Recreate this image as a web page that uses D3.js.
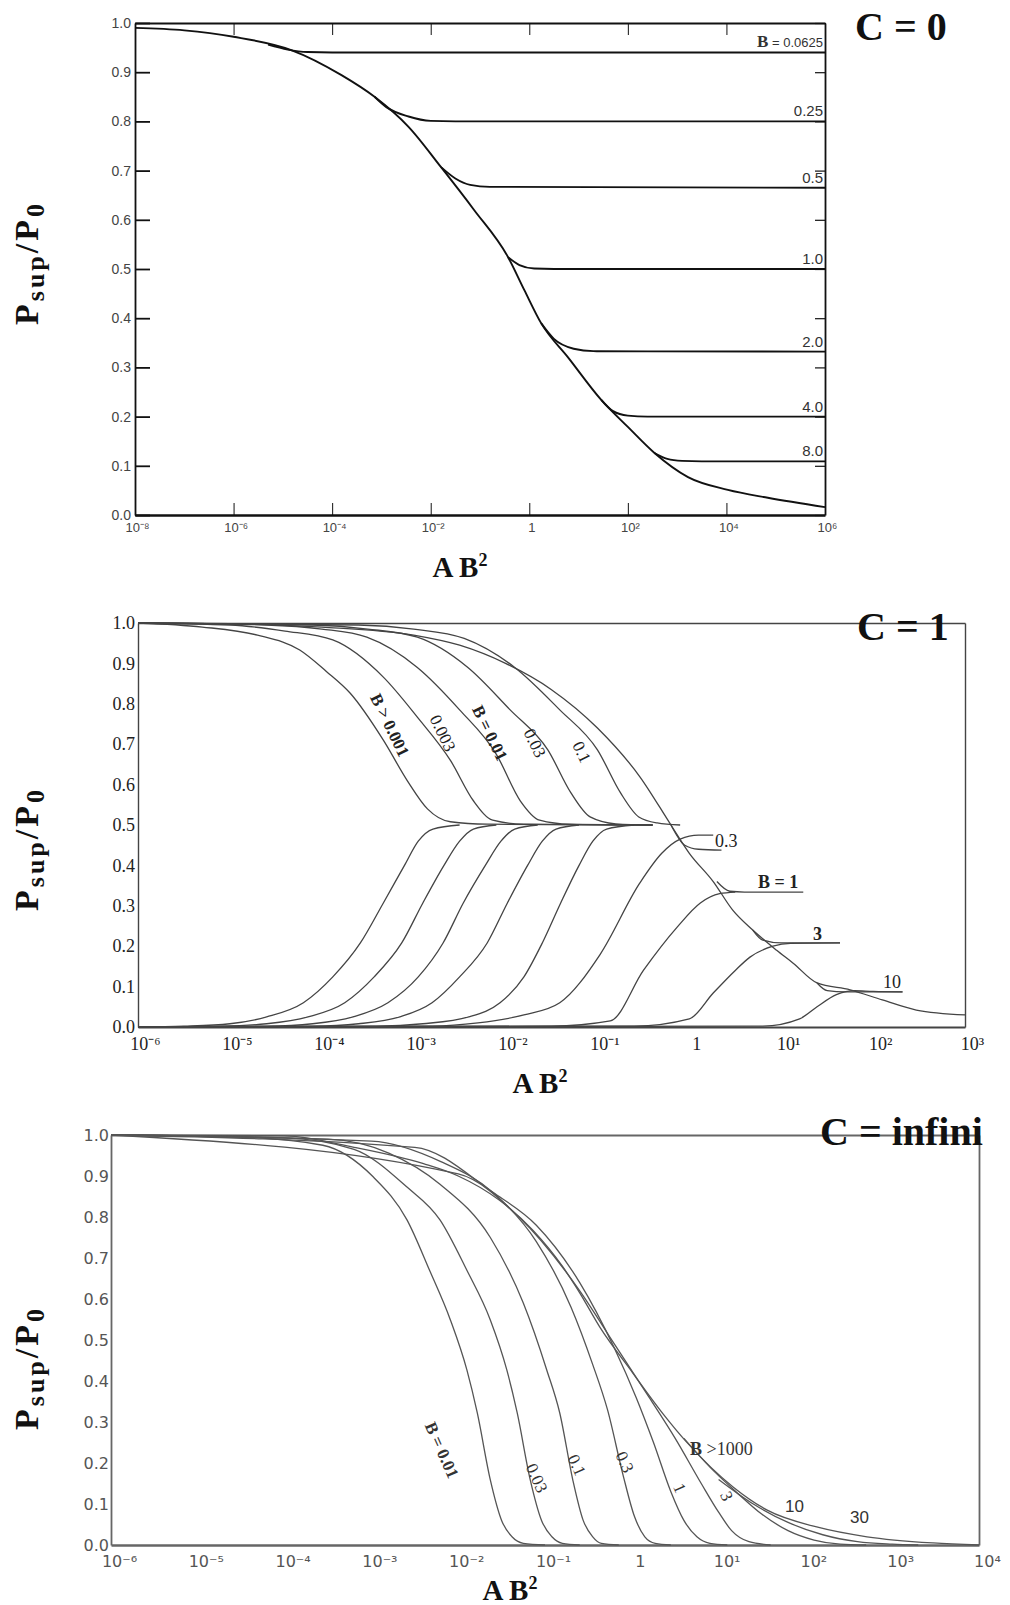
<!DOCTYPE html>
<html>
<head>
<meta charset="utf-8">
<script src="https://cdn.jsdelivr.net/npm/d3@7"></script>
<style>
  body { margin: 0; background: #fff; }
</style>
</head>
<body>
<svg id="fig" width="1010" height="1605"></svg>
<script>
// every point is [log10(A B²), Psup/P0]

// ---------- C = 0 ----------
const c0XTicks = [-8, -6, -4, -2, 0, 2, 4, 6];
const c0Env = [[-8, 0.99], [-7, 0.985], [-6, 0.972], [-4.83, 0.945], [-3.81, 0.894], [-3.14, 0.85], [-2.45, 0.789],
  [-1.79, 0.707], [-1.12, 0.62], [-0.43, 0.524], [-0.1, 0.457], [0.24, 0.39], [0.79, 0.32], [1.46, 0.234],
  [2.0, 0.179], [2.54, 0.126], [3.22, 0.077], [4.03, 0.051], [4.84, 0.035], [6, 0.016]];
const c0B00625 = [[-5.3, 0.956], [-4.9, 0.946], [-4.5, 0.941], [-4, 0.94], [6, 0.94]];
const c0B025 = [[-3.14, 0.85], [-2.9, 0.829], [-2.45, 0.81], [-2, 0.801], [-1.5, 0.8], [6, 0.8]];
const c0B05 = [[-1.79, 0.707], [-1.5, 0.684], [-1.2, 0.671], [-0.8, 0.667], [6, 0.665]];
const c0B1 = [[-0.43, 0.524], [-0.2, 0.508], [0.1, 0.501], [0.5, 0.5], [6, 0.5]];
const c0B2 = [[0.24, 0.39], [0.5, 0.358], [0.9, 0.338], [1.3, 0.333], [6, 0.332]];
const c0B4 = [[1.46, 0.234], [1.7, 0.211], [2.0, 0.202], [2.4, 0.2], [6, 0.2]];
const c0B8 = [[2.54, 0.126], [2.8, 0.114], [3.1, 0.11], [3.5, 0.109], [6, 0.109]];
const c0Labels = ["0.25", "0.5", "1.0", "2.0", "4.0", "8.0"];

// ---------- C = 1 ----------
const c1XTicks = [-6, -5, -4, -3, -2, -1, 0, 1, 2, 3];
const c1Env = [[-6, 1], [-5, 0.998], [-4, 0.99], [-3, 0.97], [-2.5, 0.945], [-2, 0.9], [-1.5, 0.835], [-1.0, 0.74],
  [-0.54, 0.62], [-0.2, 0.5], [0, 0.43], [0.26, 0.36], [0.47, 0.29], [0.69, 0.24], [0.95, 0.19], [1.13, 0.158],
  [1.39, 0.109], [1.75, 0.092], [2.1, 0.067], [2.47, 0.042], [3, 0.03]];
const c1DescB0001 = [[-6, 1], [-5.3, 0.99], [-4.7, 0.97], [-4.24, 0.933], [-3.95, 0.88], [-3.69, 0.826], [-3.33, 0.71],
  [-3.07, 0.61], [-2.85, 0.54], [-2.6, 0.508], [-2.2, 0.502], [-0.4, 0.5]];
const c1DescB0003 = [[-6, 1], [-5, 0.995], [-4.4, 0.98], [-3.88, 0.958], [-3.33, 0.866], [-2.96, 0.767], [-2.6, 0.66],
  [-2.35, 0.56], [-2.14, 0.512], [-1.8, 0.502], [-0.4, 0.5]];
const c1DescB001 = [[-6, 1], [-4.6, 0.995], [-4, 0.985], [-3.51, 0.965], [-2.96, 0.89], [-2.5, 0.785], [-2.1, 0.675],
  [-1.84, 0.56], [-1.63, 0.512], [-1.3, 0.502], [-0.4, 0.5]];
const c1DescB003 = [[-6, 1], [-4.1, 0.995], [-3.5, 0.985], [-2.96, 0.965], [-2.41, 0.89], [-1.95, 0.785], [-1.54, 0.686],
  [-1.29, 0.58], [-1.08, 0.52], [-0.8, 0.503], [-0.4, 0.5]];
const c1DescB01 = [[-6, 1], [-3.6, 0.995], [-3, 0.985], [-2.45, 0.962], [-1.9, 0.89], [-1.41, 0.785], [-1.0, 0.686],
  [-0.75, 0.58], [-0.55, 0.52], [-0.35, 0.505], [-0.1, 0.5]];
const c1DescB03 = [[-0.2, 0.5], [-0.05, 0.45], [0.1, 0.44], [0.35, 0.438]];
const c1DescB1 = [[0.3, 0.36], [0.44, 0.336], [0.6, 0.334], [1.24, 0.334]];
const c1DescB3 = [[0.69, 0.24], [0.8, 0.215], [1.0, 0.208], [1.64, 0.208]];
const c1DescB10 = [[1.39, 0.109], [1.5, 0.09], [1.7, 0.087], [2.32, 0.087]];
const c1AscB0001 = [[-6, 0], [-5.5, 0.002], [-5, 0.008], [-4.6, 0.025], [-4.2, 0.06], [-3.88, 0.124], [-3.58, 0.208],
  [-3.33, 0.307], [-3.1, 0.4], [-2.95, 0.46], [-2.79, 0.49], [-2.5, 0.5]];
const c1AscB0003 = [[-6, 0], [-5.1, 0.002], [-4.6, 0.008], [-4.15, 0.025], [-3.75, 0.06], [-3.43, 0.124], [-3.13, 0.208],
  [-2.9, 0.307], [-2.67, 0.4], [-2.5, 0.46], [-2.35, 0.49], [-2.1, 0.5]];
const c1AscB001 = [[-6, 0], [-4.6, 0.002], [-4.1, 0.008], [-3.66, 0.025], [-3.28, 0.06], [-2.95, 0.124], [-2.68, 0.208],
  [-2.46, 0.307], [-2.22, 0.4], [-2.05, 0.46], [-1.9, 0.49], [-1.65, 0.5]];
const c1AscB003 = [[-6, 0], [-4.1, 0.002], [-3.6, 0.008], [-3.15, 0.025], [-2.8, 0.06], [-2.5, 0.124], [-2.2, 0.208],
  [-1.98, 0.307], [-1.76, 0.4], [-1.6, 0.46], [-1.45, 0.49], [-1.2, 0.5]];
const c1AscB01 = [[-6, 0], [-3.4, 0.002], [-2.9, 0.008], [-2.4, 0.025], [-2.06, 0.06], [-1.8, 0.124], [-1.6, 0.208],
  [-1.4, 0.307], [-1.2, 0.4], [-1.05, 0.46], [-0.9, 0.49], [-0.6, 0.5]];
const c1AscB03 = [[-6, 0], [-2.8, 0.002], [-2.3, 0.01], [-1.8, 0.03], [-1.41, 0.06], [-0.97, 0.18], [-0.54, 0.356],
  [-0.3, 0.43], [-0.1, 0.465], [0.1, 0.475], [0.26, 0.475]];
const c1AscB1 = [[-6, 0], [-1.5, 0.002], [-0.86, 0.015], [-0.5, 0.14], [-0.13, 0.248], [0.12, 0.307], [0.33, 0.33], [0.5, 0.334]];
const c1AscB3 = [[-6, 0], [-0.6, 0.002], [0, 0.02], [0.26, 0.084], [0.5, 0.14], [0.66, 0.173], [0.91, 0.2], [1.1, 0.207], [1.64, 0.208]];
const c1AscB10 = [[-6, 0], [0.8, 0.002], [1.2, 0.02], [1.39, 0.05], [1.6, 0.08], [1.8, 0.09], [2.0, 0.088], [2.32, 0.087]];

// ---------- C = infini ----------
const ciXTicks = [-6, -5, -4, -3, -2, -1, 0, 1, 2, 3, 4];
const ciEnv = [[-6, 1], [-4, 0.998], [-3.2, 0.97], [-2.4, 0.93], [-2, 0.9], [-1.52, 0.84], [-1.14, 0.768], [-0.8, 0.68],
  [-0.6, 0.615], [-0.37, 0.532], [0.01, 0.42], [0.36, 0.32], [0.64, 0.249], [1.17, 0.141], [1.56, 0.085],
  [2.13, 0.044], [2.71, 0.02], [3.47, 0.005], [4, 0]];
const ciB001 = [[-6, 1], [-4.5, 0.995], [-3.56, 0.975], [-2.98, 0.898], [-2.59, 0.793], [-2.33, 0.67], [-2.09, 0.549],
  [-1.9, 0.427], [-1.78, 0.322], [-1.63, 0.159], [-1.5, 0.06], [-1.38, 0.02], [-1.25, 0.004], [-1.0, 0]];
const ciB003 = [[-6, 1], [-4, 0.993], [-3.2, 0.965], [-2.59, 0.873], [-2.21, 0.793], [-1.9, 0.67], [-1.63, 0.549],
  [-1.44, 0.427], [-1.32, 0.322], [-1.17, 0.159], [-1.04, 0.06], [-0.92, 0.02], [-0.8, 0.004], [-0.6, 0]];
const ciB01 = [[-6, 1], [-3.5, 0.99], [-2.8, 0.956], [-2.21, 0.88], [-1.63, 0.75], [-1.25, 0.59], [-0.98, 0.427],
  [-0.83, 0.322], [-0.68, 0.159], [-0.56, 0.06], [-0.45, 0.02], [-0.35, 0.004], [-0.15, 0]];
const ciB03 = [[-6, 1], [-3, 0.985], [-2.2, 0.935], [-1.6, 0.86], [-1.1, 0.74], [-0.7, 0.58], [-0.45, 0.44],
  [-0.28, 0.33], [-0.1, 0.17], [0.03, 0.07], [0.15, 0.02], [0.27, 0.004], [0.45, 0]];
const ciB1 = [[-6, 1], [-2.5, 0.97], [-1.6, 0.86], [-1.1, 0.78], [-0.6, 0.64], [-0.2, 0.48], [0.05, 0.36], [0.25, 0.25],
  [0.45, 0.13], [0.6, 0.06], [0.75, 0.02], [0.9, 0.004], [1.1, 0]];
const ciB3 = [[-6, 1], [-2, 0.905], [-1.3, 0.8], [-0.6, 0.62], [-0.2, 0.49], [0.2, 0.36], [0.5, 0.26], [0.8, 0.15],
  [1.0, 0.08], [1.15, 0.035], [1.35, 0.008], [1.6, 0]];
const ciB10 = [[0.6, 0.26], [0.9, 0.19], [1.2, 0.13], [1.5, 0.075], [1.8, 0.035], [2.1, 0.012], [2.4, 0.002], [2.7, 0]];
const ciB30 = [[1.0, 0.16], [1.4, 0.1], [1.8, 0.055], [2.2, 0.025], [2.6, 0.008], [3.0, 0.002], [3.3, 0]];

const yTicks = d3.range(0, 11).map(i => i / 10);

const serif = "'Liberation Serif', 'Times New Roman', serif";
const sans = "'Liberation Sans', Arial, sans-serif";
const svg = d3.select("#fig");

const supDigits = { "-": "\u207B", "0": "\u2070", "1": "\u00B9", "2": "\u00B2", "3": "\u00B3", "4": "\u2074",
  "5": "\u2075", "6": "\u2076", "7": "\u2077", "8": "\u2078", "9": "\u2079" };
function powLabel(e) {
  if (e === 0) return "1";
  return "10" + String(e).split("").map(c => supDigits[c]).join("");
}

function drawPanel(p) {
  const x = d3.scaleLog().domain([10 ** p.xDom[0], 10 ** p.xDom[1]]).range([p.left, p.right]);
  const y = d3.scaleLinear().domain([0, 1]).range([p.bottom, p.top]);
  const g = svg.append("g");

  const line = d3.line()
    .x(d => x(10 ** d[0]))
    .y(d => y(d[1]))
    .curve(d3.curveMonotoneX);

  // left axis
  const ya = g.append("g")
    .attr("transform", "translate(" + p.left + ",0)")
    .call(d3.axisLeft(y).tickValues(yTicks).tickFormat(d3.format(".1f"))
      .tickSizeInner(p.yTickIn ? -p.yTickIn : 0).tickSizeOuter(0).tickPadding(p.yPad));
  ya.select(".domain").attr("stroke", p.frame).attr("stroke-width", p.frameW);
  ya.selectAll("line").attr("stroke", p.frame).attr("stroke-width", p.frameW);
  ya.selectAll("text").attr("font-family", p.tickFont).attr("font-size", p.yTickSize).attr("fill", p.tickColor);

  // bottom axis
  const xa = g.append("g")
    .attr("transform", "translate(0," + p.bottom + ")")
    .call(d3.axisBottom(x).tickValues(p.xTicks.map(e => 10 ** e)).tickFormat(d => powLabel(Math.round(Math.log10(d))))
      .tickSizeInner(p.xTickIn ? -p.xTickIn : 0).tickSizeOuter(0).tickPadding(p.xPad));
  xa.select(".domain").attr("stroke", p.frame).attr("stroke-width", p.frameW + 0.6);
  xa.selectAll("line").attr("stroke", p.frame).attr("stroke-width", 1);
  xa.selectAll("text").attr("font-family", p.tickFont).attr("font-size", p.xTickSize).attr("fill", p.tickColor)
    .attr("dx", p.xShift);

  // top and right frame
  const ta = g.append("g")
    .attr("transform", "translate(0," + p.top + ")")
    .call(d3.axisTop(x).tickValues(p.xTicks.map(e => 10 ** e)).tickFormat("")
      .tickSizeInner(p.xTickIn ? -p.xTickIn : 0).tickSizeOuter(0));
  ta.select(".domain").attr("stroke", p.frame).attr("stroke-width", p.frameW);
  ta.selectAll("line").attr("stroke", p.frame).attr("stroke-width", 1);

  const ra = g.append("g")
    .attr("transform", "translate(" + p.right + ",0)")
    .call(d3.axisRight(y).tickValues(yTicks).tickFormat("")
      .tickSizeInner(p.yTickIn ? -10 : 0).tickSizeOuter(0));
  ra.select(".domain").attr("stroke", p.frame).attr("stroke-width", p.frameW);
  ra.selectAll("line").attr("stroke", p.frame).attr("stroke-width", 1.2);

  // curves
  g.append("g").selectAll("path")
    .data(p.series)
    .enter().append("path")
    .attr("d", d => line(d))
    .attr("fill", "none")
    .attr("stroke", p.curveColor)
    .attr("stroke-width", p.curveW);

  // axis titles
  const yt = g.append("text")
    .attr("transform", "translate(" + p.yTitle[0] + "," + p.yTitle[1] + ") rotate(-90)")
    .attr("text-anchor", "middle")
    .attr("font-family", serif).attr("font-weight", "bold").attr("font-size", 34).attr("fill", "#111")
    .attr("letter-spacing", 3);
  yt.append("tspan").text("P");
  yt.append("tspan").attr("font-size", 26).attr("dy", 6).text("sup");
  yt.append("tspan").attr("dy", -6).text("/P");
  yt.append("tspan").attr("font-size", 26).attr("dy", 6).text("0");

  const xt = g.append("text")
    .attr("x", p.xTitle[0]).attr("y", p.xTitle[1])
    .attr("text-anchor", "middle")
    .attr("font-family", serif).attr("font-weight", "bold").attr("font-size", 29).attr("fill", "#111");
  xt.append("tspan").text("A B");
  xt.append("tspan").attr("font-size", 18).attr("dy", -11).text("2");

  g.append("text")
    .attr("x", p.cTitle[0]).attr("y", p.cTitle[1])
    .attr("font-family", serif).attr("font-weight", "bold").attr("font-size", 40).attr("fill", "#111")
    .text(p.cText);

  return { x, y, g };
}

// ---------- panel 1 : C = 0 ----------
const P0 = drawPanel({
  xDom: [-8, 6], left: 135, right: 825, top: 23, bottom: 515,
  xTicks: c0XTicks, yTickIn: 15, xTickIn: 12, yPad: 4, xPad: 8, xShift: 2,
  frame: "#111", frameW: 1.8, tickFont: sans, tickColor: "#444", yTickSize: 14, xTickSize: 13,
  curveColor: "#111", curveW: 1.9,
  series: [c0Env, c0B00625, c0B025, c0B05, c0B1, c0B2, c0B4, c0B8],
  yTitle: [38, 263], xTitle: [460, 577], cTitle: [855, 40], cText: "C = 0"
});
{
  const lab = P0.g.append("text")
    .attr("x", 823).attr("y", P0.y(c0B00625[c0B00625.length - 1][1]) - 6)
    .attr("text-anchor", "end").attr("font-family", sans).attr("font-size", 13).attr("fill", "#333");
  lab.append("tspan").attr("font-family", serif).attr("font-weight", "bold").attr("font-size", 17).text("B");
  lab.append("tspan").text(" = 0.0625");
  const plateaus = [c0B025, c0B05, c0B1, c0B2, c0B4, c0B8];
  P0.g.selectAll(".plab")
    .data(plateaus)
    .enter().append("text")
    .attr("x", 823)
    .attr("y", d => P0.y(d[d.length - 1][1]) - 5)
    .attr("text-anchor", "end").attr("font-family", sans).attr("font-size", 15).attr("fill", "#333")
    .text((d, i) => c0Labels[i]);
}

// ---------- panel 2 : C = 1 ----------
const P1 = drawPanel({
  xDom: [-6, 3], left: 138, right: 965, top: 623, bottom: 1027,
  xTicks: c1XTicks, yTickIn: 0, xTickIn: 0, yPad: 3, xPad: 10, xShift: 7,
  frame: "#444", frameW: 1.4, tickFont: serif, tickColor: "#222", yTickSize: 18, xTickSize: 18,
  curveColor: "#444", curveW: 1.3,
  series: [c1Env, c1DescB0001, c1DescB0003, c1DescB001, c1DescB003, c1DescB01, c1DescB03, c1DescB1, c1DescB3,
    c1DescB10, c1AscB0001, c1AscB0003, c1AscB001, c1AscB003, c1AscB01, c1AscB03, c1AscB1, c1AscB3, c1AscB10],
  yTitle: [38, 849], xTitle: [540, 1093], cTitle: [857, 640], cText: "C = 1"
});
{
  const rot = [
    { t: "B > 0.001", x: 390, y: 725 },
    { t: "0.003", x: 443, y: 733 },
    { t: "B = 0.01", x: 490, y: 733 },
    { t: "0.03", x: 535, y: 743 },
    { t: "0.1", x: 582, y: 752 }
  ];
  P1.g.selectAll(".rlab")
    .data(rot)
    .enter().append("text")
    .attr("transform", d => "translate(" + d.x + "," + d.y + ") rotate(64)")
    .attr("text-anchor", "middle").attr("dy", "0.35em")
    .attr("font-family", serif).attr("font-size", 17).attr("font-weight", d => d.t[0] === "B" ? "bold" : "normal")
    .attr("fill", "#222").text(d => d.t);
  P1.g.append("text").attr("x", 715).attr("y", 847).attr("font-family", serif).attr("font-size", 18).attr("fill", "#222").text("0.3");
  P1.g.append("text").attr("x", 758).attr("y", 888).attr("font-family", serif).attr("font-size", 18).attr("font-weight", "bold").attr("fill", "#222").text("B = 1");
  P1.g.append("text").attr("x", 813).attr("y", 940).attr("font-family", serif).attr("font-size", 18).attr("font-weight", "bold").attr("fill", "#222").text("3");
  P1.g.append("text").attr("x", 883).attr("y", 988).attr("font-family", serif).attr("font-size", 18).attr("fill", "#222").text("10");
}

// ---------- panel 3 : C = infini ----------
const P2 = drawPanel({
  xDom: [-6, 4], left: 111, right: 979, top: 1135, bottom: 1545,
  xTicks: ciXTicks, yTickIn: 0, xTickIn: 0, yPad: 2, xPad: 11, xShift: 8,
  frame: "#666", frameW: 1.8, tickFont: "'DejaVu Sans', sans-serif", tickColor: "#555", yTickSize: 16, xTickSize: 16,
  curveColor: "#555", curveW: 1.3,
  series: [ciEnv, ciB001, ciB003, ciB01, ciB03, ciB1, ciB3, ciB10, ciB30],
  yTitle: [38, 1368], xTitle: [510, 1600], cTitle: [820, 1145], cText: "C = infini"
});
{
  const rot = [
    { t: "B = 0.01", x: 442, y: 1450 },
    { t: "0.03", x: 537, y: 1478 },
    { t: "0.1", x: 577, y: 1465 },
    { t: "0.3", x: 625, y: 1462 },
    { t: "1", x: 680, y: 1488 },
    { t: "3", x: 727, y: 1496 }
  ];
  P2.g.selectAll(".rlab")
    .data(rot)
    .enter().append("text")
    .attr("transform", d => "translate(" + d.x + "," + d.y + ") rotate(66)")
    .attr("text-anchor", "middle").attr("dy", "0.35em")
    .attr("font-family", serif).attr("font-size", 17).attr("font-weight", d => d.t[0] === "B" ? "bold" : "normal")
    .attr("fill", "#333").text(d => d.t);
  const bl = P2.g.append("text").attr("x", 690).attr("y", 1455).attr("font-family", serif).attr("font-size", 18).attr("fill", "#333");
  bl.append("tspan").attr("font-weight", "bold").text("B");
  bl.append("tspan").text(" >1000");
  P2.g.append("text").attr("x", 785).attr("y", 1512).attr("font-family", sans).attr("font-size", 17).attr("fill", "#333").text("10");
  P2.g.append("text").attr("x", 850).attr("y", 1523).attr("font-family", sans).attr("font-size", 17).attr("fill", "#333").text("30");
}
</script>
</body>
</html>
